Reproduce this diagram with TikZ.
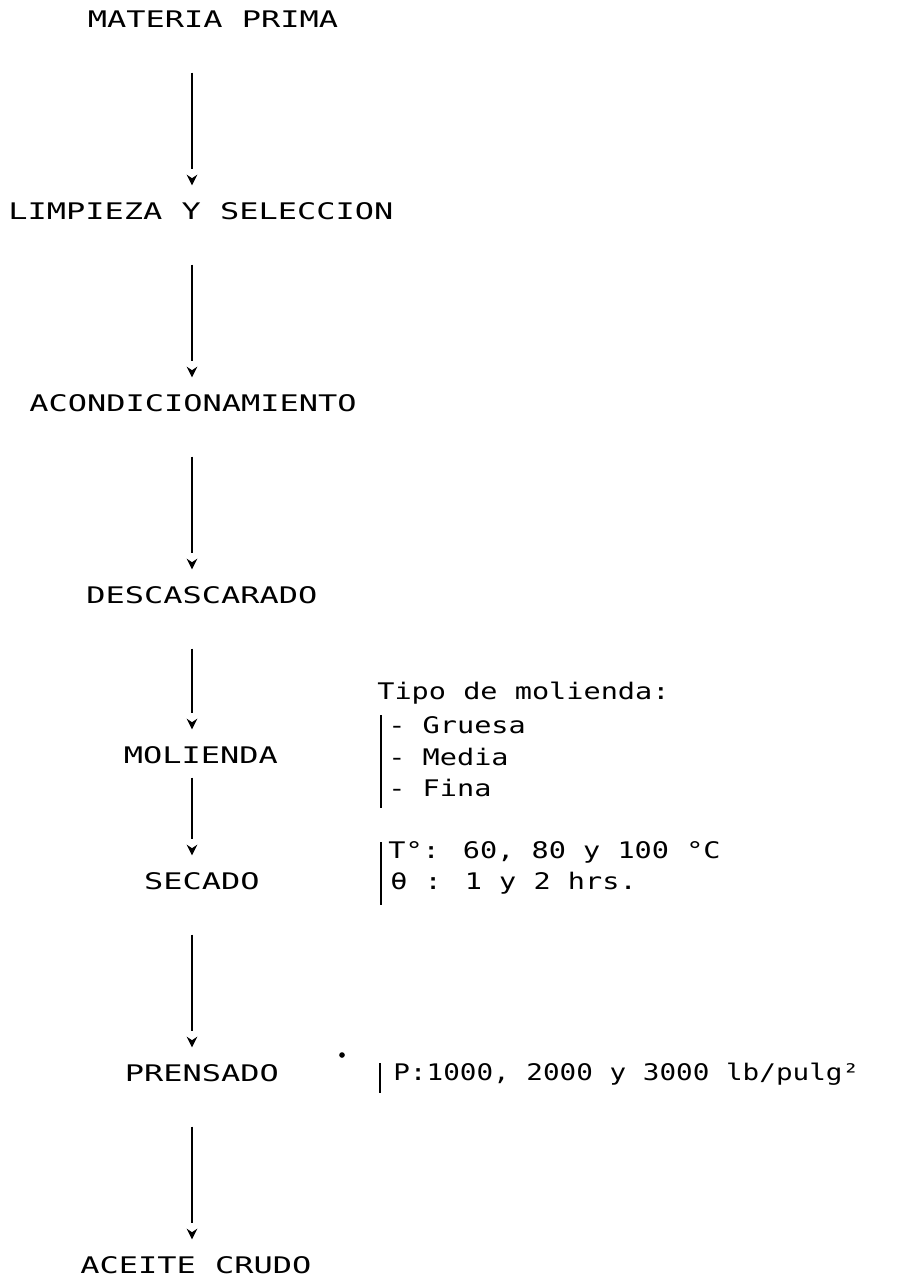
\documentclass[tikz,border=0pt]{standalone}
\usepackage{fontspec}
\usepackage{tikz}
\usetikzlibrary{arrows.meta,positioning,calc}
\newfontfamily\mainfam[FakeStretch=1.40]{DejaVu Sans Mono}
\newfontfamily\notefam[FakeStretch=1.25]{DejaVu Sans Mono}
\newfontfamily\presfam[FakeStretch=1.21]{DejaVu Sans Mono}
\newcommand\stagefont{\mainfam\fontsize{13}{15}\selectfont}
\newcommand\notefont{\notefam\fontsize{13}{15}\selectfont}
\newcommand\presfont{\presfam\fontsize{13}{15}\selectfont}

\begin{document}
\begin{tikzpicture}[
  x=0.02cm, y=-0.02cm,
  stage/.style={font=\stagefont, inner sep=0pt, text height=9.5pt, text depth=0pt},
  note/.style={font=\notefont, anchor=west, inner sep=0pt, text height=9.5pt, text depth=0pt},
  flow/.style={line width=1.2pt, shorten <=0.9cm, shorten >=0.66cm,
    postaction={draw, dash pattern=on 0pt off 100cm, -{Stealth[length=6pt,width=6pt]}, shorten >=0.34cm}},
  bar/.style={line width=1.2pt},
]
\useasboundingbox (0,0) rectangle (905,1277);
\coordinate (spine) at (192,0);

\node[stage] (materia) at (213,19) {MATERIA PRIMA};
\node[stage] (limpieza) at (201,211) {LIMPIEZA Y SELECCION};
\node[stage] (acond) at (193,403) {ACONDICIONAMIENTO};
\node[stage] (descasc) at (202,595) {DESCASCARADO};
\node[stage] (molienda) at (201,755) {MOLIENDA};
\node[stage] (secado) at (202,881) {SECADO};
\node[stage] (prensado) at (202,1073) {PRENSADO};
\node[stage] (aceite) at (196,1265) {ACEITE CRUDO};

\draw[flow] (materia.south -| spine) -- (limpieza.north -| spine);
\draw[flow] (limpieza.south -| spine) -- (acond.north -| spine);
\draw[flow] (acond.south -| spine) -- (descasc.north -| spine);
\draw[flow] (descasc.south -| spine) -- (molienda.north -| spine);
\draw[flow, shorten <=0.28cm] (molienda.south -| spine) -- (secado.north -| spine);
\draw[flow] (secado.south -| spine) -- (prensado.north -| spine);
\draw[flow] (prensado.south -| spine) -- (aceite.north -| spine);

\node[note] (tipo) at (377,691) {Tipo de molienda:};
\node[note] (gruesa) at (388,725) {- Gruesa};
\node[note] (media) at (388,757) {- Media};
\node[note] (fina) at (388,788) {- Fina};
\draw[bar] (381,715) -- (381,808);

\node[note] (temp) at (388,850) {T°: 60, 80 y 100 °C};
\node[note] (tiempo) at (390,881) {θ : 1 y 2 hrs.};
\draw[bar] (381,842) -- (381,905);

\node[note, font=\presfont] (presion) at (393,1072) {P:1000, 2000 y 3000 lb/pulg²};
\draw[bar] (380,1063) -- (380,1093);
\fill (342,1055) circle (1.6pt);
\end{tikzpicture}
\end{document}
